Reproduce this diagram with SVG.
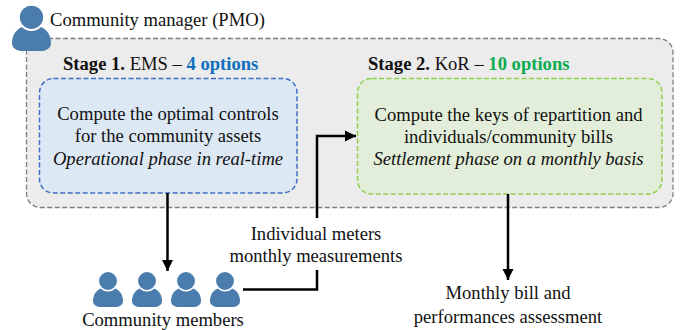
<svg xmlns="http://www.w3.org/2000/svg" width="688" height="330" viewBox="0 0 688 330">
<style>
text{font-family:"Liberation Serif","Times New Roman",serif;font-size:18.600px;fill:#111}
.m{text-anchor:middle}
.b{font-weight:bold}
.conn{fill:none;stroke:#000;stroke-width:2.500}
.person{fill:#4a7dae}
.head{fill:#4a7dae;stroke:#fff;stroke-width:1.500}
</style>
<defs>
<marker id="arrow" markerUnits="userSpaceOnUse" markerWidth="12" markerHeight="12" refX="11" refY="6" orient="auto"><path d="M0,0.500L11,6L0,11.500Z" fill="#000"/></marker>
<g id="p">
<path class="person" d="M-15,11C-15,3 -10,-1 -4,-3H4C10,-1 15,3 15,11C15,15 11,17 7,17H-7C-11,17 -15,15 -15,11Z"/>
<circle class="head" cx="0" cy="-9" r="9.700"/>
</g>
</defs>
<g id="container"><rect x="26.500" y="38.500" width="646.500" height="169" rx="14" fill="#ececec" stroke="#7f7f7f" stroke-width="1.300" stroke-dasharray="5 2.500"/></g>
<g id="manager">
<use href="#p" transform="translate(31.500,29) scale(1.300)"/>
<text x="50" y="26">Community manager (PMO)</text>
</g>
<g id="stage1">
<text x="63" y="70"><tspan class="b">Stage 1.</tspan> EMS – <tspan class="b" style="fill:#0f70be">4 options</tspan></text>
<rect x="39.500" y="78.500" width="257.500" height="114.500" rx="14" fill="#dde8f5" stroke="#3f6fc4" stroke-width="1.500" stroke-dasharray="5 2.500"/>
<text class="m" x="168" y="120">Compute the optimal controls</text>
<text class="m" x="168" y="142">for the community assets</text>
<text class="m" x="168" y="165" font-style="italic">Operational phase in real-time</text>
</g>
<g id="stage2">
<text x="368" y="70"><tspan class="b">Stage 2.</tspan> KoR – <tspan class="b" style="fill:#0bab50">10 options</tspan></text>
<rect x="357.500" y="78.500" width="304.500" height="115.500" rx="14" fill="#e2eed9" stroke="#8fd14f" stroke-width="1.500" stroke-dasharray="5 2.500"/>
<text class="m" x="508.500" y="121">Compute the keys of repartition and</text>
<text class="m" x="508.500" y="143">individuals/community bills</text>
<text class="m" x="508.500" y="165" font-style="italic">Settlement phase on a monthly basis</text>
</g>
<g id="members">
<use href="#p" transform="translate(108,290)"/>
<use href="#p" transform="translate(147,290)"/>
<use href="#p" transform="translate(186,290)"/>
<use href="#p" transform="translate(225,290)"/>
<text class="m" x="163" y="325.500">Community members</text>
</g>
<g id="meters">
<text class="m" x="316" y="240">Individual meters</text>
<text class="m" x="316" y="262">monthly measurements</text>
</g>
<g id="bill">
<text class="m" x="508" y="299">Monthly bill and</text>
<text class="m" x="508" y="323">performances assessment</text>
</g>
<g id="connectors">
<path class="conn" d="M167.500,193V271" marker-end="url(#arrow)"/>
<path class="conn" d="M243,289.500H317V270"/>
<path class="conn" d="M317,218V136H356" marker-end="url(#arrow)"/>
<path class="conn" d="M508,194V280" marker-end="url(#arrow)"/>
</g>
</svg>
